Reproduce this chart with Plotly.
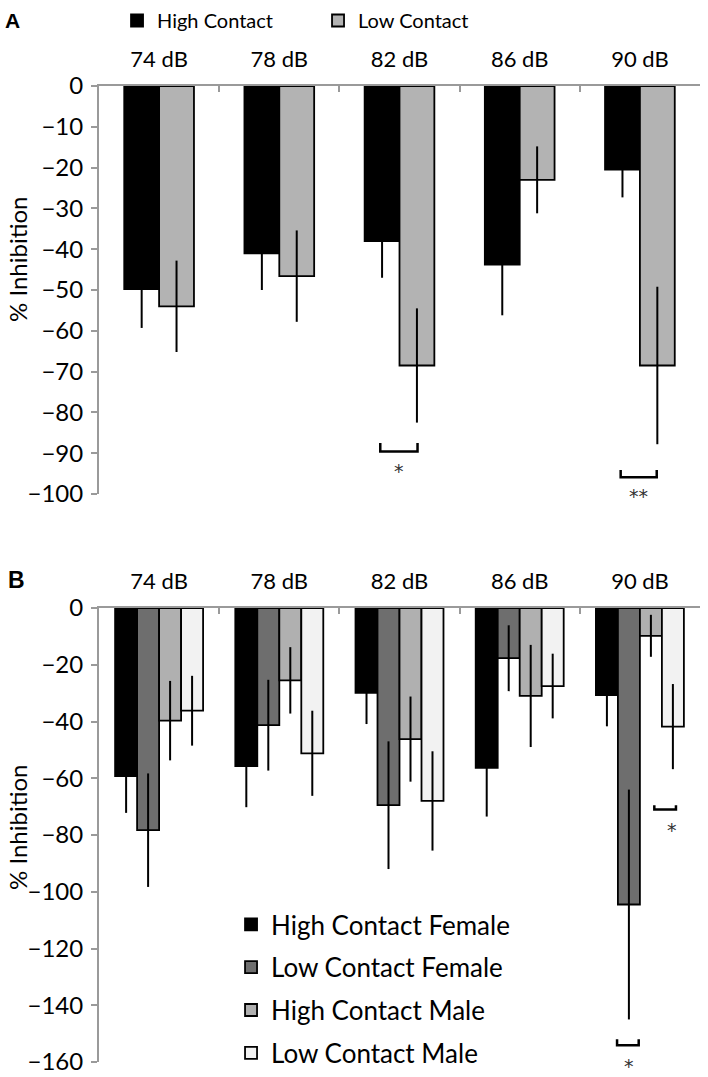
import plotly.graph_objects as go

categories = ["74 dB", "78 dB", "82 dB", "86 dB", "90 dB"]

# Panel A: % inhibition (mean, error)
a_high = [-49.8, -41.0, -38.0, -43.8, -20.5]
a_high_err = [9.5, 9.0, 9.0, 12.4, 6.8]
a_low = [-54.0, -46.6, -68.5, -23.0, -68.5]
a_low_err = [11.2, 11.2, 14.0, 8.2, 19.3]

# Panel B: % inhibition by sex (mean, error)
b_hcf = [-59.2, -55.7, -29.9, -56.3, -30.7]
b_hcf_err = [13.0, 14.5, 11.0, 17.2, 11.0]
b_lcf = [-78.3, -41.3, -69.5, -17.7, -104.5]
b_lcf_err = [20.0, 16.0, 22.5, 11.6, 40.5]
b_hcm = [-39.7, -25.5, -46.2, -31.0, -9.8]
b_hcm_err = [14.0, 11.7, 15.0, 18.0, 7.4]
b_lcm = [-36.2, -51.2, -68.0, -27.5, -41.8]
b_lcm_err = [12.3, 15.0, 17.5, 11.4, 15.0]

# Significance markers (category index, bracket span offsets, bracket y, star text/y)
a_sig_cat = [2, 4]
a_sig_x0 = [-0.16, -0.16]
a_sig_x1 = [0.15, 0.14]
a_sig_ytop = [-87.5, -94.1]
a_sig_ybot = [-89.6, -95.9]
a_sig_text = ["*", "**"]
a_sig_texty = [-94.4, -100.5]

b_sig_cat = [4, 4]
b_sig_x0 = [-0.19, 0.12]
b_sig_x1 = [-0.01, 0.30]
b_sig_ytop = [-152.0, -69.5]
b_sig_ybot = [-154.1, -71.0]
b_sig_text = ["*", "*"]
b_sig_texty = [-161.5, -78.3]
b_sig_textx = [-0.09, 0.27]

A_RANGE = [-100, 0]
B_RANGE = [-160, 0]

FONT = "Lato"
AXIS_GRAY = "#9a9a9a"
H = 1062.0  # paper height in px (figure height minus bottom margin)

fig = go.Figure()

# ---- Panel A bars
a_w = 0.29
for name, vals, errs, color, off in [
    ("High Contact", a_high, a_high_err, "#000000", -a_w),
    ("Low Contact", a_low, a_low_err, "#b3b3b3", 0.0),
]:
    fig.add_trace(go.Bar(
        x=categories, y=vals, name=name, width=a_w, offset=off,
        marker=dict(color=color, line=dict(color="#000000", width=1.8)),
        error_y=dict(type="data", array=errs, visible=True, color="#000000",
                     thickness=2, width=0),
        xaxis="x", yaxis="y", legend="legend",
    ))

# ---- Panel B bars
b_w = 0.183
b_series = [
    ("High Contact Female", b_hcf, b_hcf_err, "#000000"),
    ("Low Contact Female", b_lcf, b_lcf_err, "#6e6e6e"),
    ("High Contact Male", b_hcm, b_hcm_err, "#b0b0b0"),
    ("Low Contact Male", b_lcm, b_lcm_err, "#f2f2f2"),
]
for i, (name, vals, errs, color) in enumerate(b_series):
    fig.add_trace(go.Bar(
        x=categories, y=vals, name=name, width=b_w, offset=-2 * b_w + i * b_w,
        marker=dict(color=color, line=dict(color="#000000", width=1.8)),
        error_y=dict(type="data", array=errs, visible=True, color="#000000",
                     thickness=2, width=0),
        xaxis="x2", yaxis="y2", legend="legend2", legendgroup=name,
    ))

# ---- Significance brackets
def add_brackets(cats, x0s, x1s, ytops, ybots, xref, yref):
    for c, x0, x1, yt, yb in zip(cats, x0s, x1s, ytops, ybots):
        fig.add_shape(type="path",
                      path=f"M {c + x0},{yt} L {c + x0},{yb} L {c + x1},{yb} L {c + x1},{yt}",
                      xref=xref, yref=yref, line=dict(color="#000000", width=2.5))

add_brackets(a_sig_cat, a_sig_x0, a_sig_x1, a_sig_ytop, a_sig_ybot, "x", "y")
add_brackets(b_sig_cat, b_sig_x0, b_sig_x1, b_sig_ytop, b_sig_ybot, "x2", "y2")


def to_domain(v, rng):
    return (v - rng[0]) / (rng[1] - rng[0])


star_font = dict(family="DejaVu Sans", size=19, color="#333333")
annotations = []
for c, x0, x1, t, ty in zip(a_sig_cat, a_sig_x0, a_sig_x1, a_sig_text, a_sig_texty):
    annotations.append(dict(x=c + (x0 + x1) / 2, y=to_domain(ty, A_RANGE), xref="x",
                            yref="y domain", text=t, showarrow=False, font=star_font,
                            xanchor="center", yanchor="middle"))
for c, tx, t, ty in zip(b_sig_cat, b_sig_textx, b_sig_text, b_sig_texty):
    annotations.append(dict(x=c + tx, y=to_domain(ty, B_RANGE), xref="x2",
                            yref="y2 domain", text=t, showarrow=False, font=star_font,
                            xanchor="center", yanchor="middle"))

# Panel letters and y titles
annotations += [
    dict(x=(12 - 99) / 601, y=(H - 21) / H, xref="paper", yref="paper", text="<b>A</b>",
         showarrow=False, xanchor="center", yanchor="middle",
         font=dict(family="Liberation Sans", size=21, color="#000000")),
    dict(x=(16 - 99) / 601, y=(H - 580) / H, xref="paper", yref="paper", text="<b>B</b>",
         showarrow=False, xanchor="center", yanchor="middle",
         font=dict(family="Liberation Sans", size=23, color="#000000")),
    dict(x=(17 - 99) / 601, y=(H - 260) / H, xref="paper", yref="paper", text="% Inhibition",
         textangle=-90, showarrow=False, xanchor="center", yanchor="middle",
         font=dict(family=FONT, size=24, color="#000000")),
    dict(x=(17 - 99) / 601, y=(H - 828) / H, xref="paper", yref="paper", text="% Inhibition",
         textangle=-90, showarrow=False, xanchor="center", yanchor="middle",
         font=dict(family=FONT, size=24, color="#000000")),
]

xaxis_common = dict(type="category", side="top", tickson="boundaries", ticks="inside",
                    ticklen=6, tickwidth=2, tickcolor=AXIS_GRAY, showline=True,
                    linecolor=AXIS_GRAY, linewidth=2, showgrid=False, zeroline=False,
                    tickfont=dict(family=FONT, size=22, color="#000000"), tickangle=0,
                    ticklabelstandoff=8,
                    range=[-0.5, 4.5], fixedrange=True, automargin=False)
yaxis_common = dict(ticks="outside", ticklen=6, tickwidth=2, tickcolor=AXIS_GRAY,
                    showline=True, linecolor=AXIS_GRAY, linewidth=2, showgrid=False,
                    zeroline=False, tickfont=dict(family=FONT, size=24, color="#000000"),
                    ticklabelstandoff=3, automargin=False)

fig.update_layout(
    width=708, height=1077,
    margin=dict(l=99, r=8, t=0, b=15, autoexpand=False),
    paper_bgcolor="white", plot_bgcolor="white",
    barmode="overlay",
    xaxis=dict(xaxis_common, anchor="y", domain=[0, 1]),
    yaxis=dict(yaxis_common, anchor="x", domain=[(H - 494) / H, (H - 86) / H],
               range=A_RANGE, dtick=10),
    xaxis2=dict(xaxis_common, anchor="y2", domain=[0, 1]),
    yaxis2=dict(yaxis_common, anchor="x2", domain=[0, (H - 608) / H],
                range=B_RANGE, dtick=20),
    legend=dict(orientation="h", x=0.030, y=(H - 1) / H,
                xanchor="left", yanchor="top",
                font=dict(family=FONT, size=20, color="#000000"),
                entrywidth=156, entrywidthmode="pixels", bgcolor="rgba(0,0,0,0)"),
    legend2=dict(orientation="v", x=0.2197, y=(H - 901) / H,
                 xanchor="left", yanchor="top",
                 font=dict(family=FONT, size=26, color="#000000"),
                 tracegroupgap=6, bgcolor="rgba(0,0,0,0)"),
    annotations=annotations,
    showlegend=True,
)

fig.write_html("out.html", config={"displayModeBar": False},
               post_script="document.body.style.margin='0';")
